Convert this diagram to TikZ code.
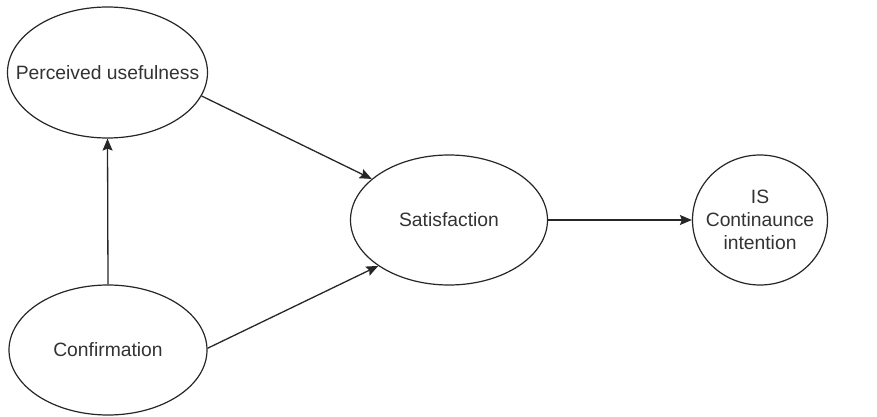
\documentclass[tikz,border=0pt]{standalone}
\usepackage{fontspec}
\setmainfont{Liberation Sans}
\usetikzlibrary{shapes.geometric,arrows.meta}
\begin{document}
\begin{tikzpicture}[x=1pt,y=-1pt,
  construct/.style={draw=black!85, line width=1.2pt, ellipse, fill=white,
    inner xsep=-25pt, inner ysep=0pt, align=center, text=black!80,
    font=\fontsize{19.3}{23}\selectfont},
  link/.style={draw=black!85, line width=1.3pt,
    -{Stealth[length=12pt,width=10pt,inset=2pt]}}]
  \useasboundingbox (0,0) rectangle (877,417);
  \node[construct, minimum width=200pt, minimum height=131pt] (pu) at (107.5,72.5) {Perceived usefulness};
  \node[construct, minimum width=198pt, minimum height=130pt] (conf) at (108,350) {Confirmation};
  \node[construct, minimum width=197pt, minimum height=130pt] (sat) at (449,220) {Satisfaction};
  \node[construct, minimum width=135pt, minimum height=130pt] (is) at (760,220) {IS\\Continaunce\\intention};
  \draw[link] (conf.north) -- (pu.south);
  \draw[link] (pu.-14) -- (sat.152);
  \draw[link] (conf.1) -- (sat.213);
  \draw[link] (sat.east) -- (is.west);
\end{tikzpicture}
\end{document}
